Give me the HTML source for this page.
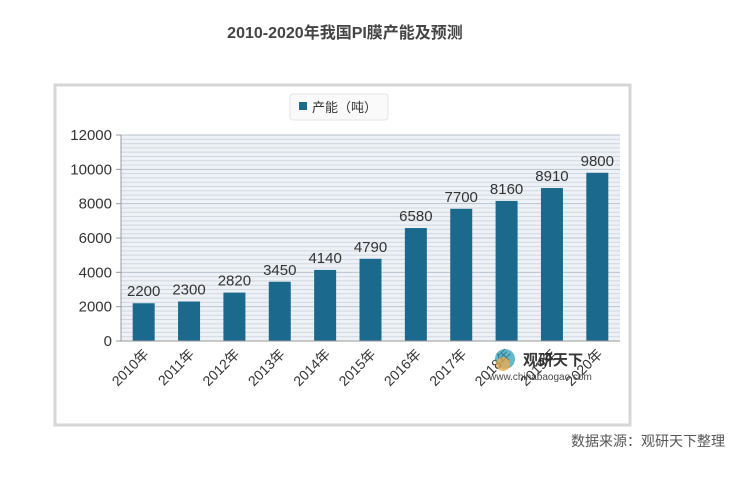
<!DOCTYPE html>
<html><head><meta charset="utf-8"><style>
body{margin:0;background:#fff;width:745px;height:475px;overflow:hidden;font-family:"Liberation Sans","Noto Sans CJK SC",sans-serif}
</style></head><body>
<svg width="745" height="475" style="font-family:'Liberation Sans','Noto Sans CJK SC',sans-serif">
<text x="345" y="38" text-anchor="middle" font-size="16" font-weight="bold" fill="#444">2010-2020年我国PI膜产能及预测</text>
<rect x="55" y="85" width="575" height="340" fill="#fff" stroke="#d6d6d6" stroke-width="3"/>
<g>
<rect x="290" y="94" width="98" height="26" rx="3" fill="#fafafa" stroke="#e4e4e4"/>
<rect x="299" y="102" width="8" height="8" fill="#1b6a8e"/>
<text x="312" y="112" font-size="13" fill="#333">产能（吨）</text>
</g>
<rect x="121" y="135" width="499" height="206" fill="#eef2f6"/>
<g id="grid"></g><g id="bars"></g><g id="axes"></g>
<g opacity="0.9">
<circle cx="505" cy="359" r="10" fill="#2b9ab8" opacity="0.8"/>
<circle cx="503" cy="364" r="7" fill="#e8a23a" opacity="0.8"/>
<text x="523" y="365" font-size="15" font-weight="bold" fill="#222">观研天下</text>
<text x="489" y="380" font-size="10" fill="#333">www.chinabaogao.com</text>
</g>
<text x="725" y="446" text-anchor="end" font-size="14" fill="#555">数据来源：观研天下整理</text>
</svg>
<script>
const categories=["2010年","2011年","2012年","2013年","2014年","2015年","2016年","2017年","2018年","2019年","2020年"];
const values=[2200,2300,2820,3450,4140,4790,6580,7700,8160,8910,9800];
const yTicks=[0,2000,4000,6000,8000,10000,12000];
const NS="http://www.w3.org/2000/svg";
const x0=121,x1=620,yTop=135,yBot=341,yMax=12000;
const y=v=>yBot-(v/yMax)*(yBot-yTop);
const step=(x1-x0)/categories.length;
const xc=i=>x0+step*(i+0.5);
function mk(t,a,p){const e=document.createElementNS(NS,t);for(const k in a)e.setAttribute(k,a[k]);p.appendChild(e);return e;}
const grid=document.getElementById('grid'),bars=document.getElementById('bars'),axes=document.getElementById('axes');
for(let v=250;v<=yMax;v+=250){const l=mk('line',{x1:x0,x2:x1,y1:y(v),y2:y(v),stroke:v%2000===0?'#b8c4cf':'#cfd8e0','stroke-width':1},grid);

}
mk('line',{x1:x0,x2:x0,y1:yTop,y2:yBot,stroke:'#999'},axes);
mk('line',{x1:x0,x2:x1,y1:yBot,y2:yBot,stroke:'#999'},axes);
yTicks.forEach(v=>{mk('line',{x1:x0-5,x2:x0,y1:y(v),y2:y(v),stroke:'#999'},axes);
const t=mk('text',{x:x0-9,y:y(v)+5,'text-anchor':'end','font-size':15,fill:'#333'},axes);t.textContent=v;

});
values.forEach((v,i)=>{const cx=xc(i);
const r=mk('rect',{x:cx-11,y:y(v),width:22,height:yBot-y(v),fill:'#1b6a8e'},bars);


const t=mk('text',{x:cx,y:y(v)-7,'text-anchor':'middle','font-size':15,fill:'#333'},bars);t.textContent=v;


const c=mk('text',{x:cx+6,y:yBot+14,'text-anchor':'end','font-size':14,fill:'#333',transform:'rotate(-45 '+(cx+6)+' '+(yBot+14)+')'},axes);c.textContent=categories[i];

});
</script>
</body></html>
